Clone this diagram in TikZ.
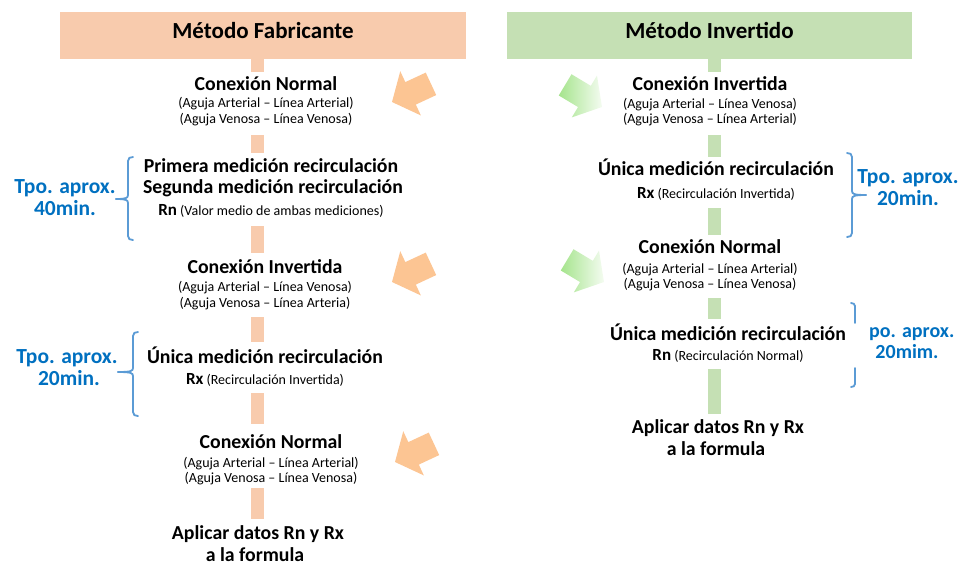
\documentclass[tikz,border=0pt]{standalone}
\usepackage{fontspec}
\setmainfont{Carlito}
\definecolor{peachH}{RGB}{248,203,173}
\definecolor{peachA}{RGB}{252,197,147}
\definecolor{greenH}{RGB}{197,224,180}
\definecolor{greenA}{RGB}{165,228,140}
\definecolor{blueT}{RGB}{0,112,192}
\definecolor{blueB}{RGB}{91,155,213}
\tikzset{
  txt/.style={inner sep=0pt, text height=1.1em, text depth=0pt},
  hdr/.style={inner sep=0pt, text height=0.62em, text depth=0pt, font=\bfseries\fontsize{23}{26}\selectfont, minimum height=47pt},
  ttl/.style={txt, font=\bfseries\fontsize{19.8}{22}\selectfont},
  sub/.style={txt, font=\fontsize{14}{16}\selectfont},
  tpo/.style={txt, font=\bfseries\fontsize{21.5}{24}\selectfont, text=blueT},
  tpos/.style={inner sep=0pt, text height=0.8em, text depth=0pt, font=\bfseries\fontsize{20}{22}\selectfont, text=blueT},
  brc/.style={draw=blueB, line width=1.8pt, line cap=round},
  barL/.style={fill=peachH},
  barR/.style={fill=greenH},
  arrowL/.pic={\fill[peachA] (0,0) -- (-20.5,24.4) -- (-20.5,12.4) -- (-43,12.4) -- (-43,-12.4) -- (-20.5,-12.4) -- (-20.5,-24.4) -- cycle;},
  arrowR/.pic={\shade[left color=greenA, right color=greenA!12!white] (0,0) -- (-20.5,24.4) -- (-20.5,12.4) -- (-43,12.4) -- (-43,-12.4) -- (-20.5,-12.4) -- (-20.5,-24.4) -- cycle;}
}
\newcommand{\bigR}[1]{{\bfseries\fontsize{17}{19}\selectfont #1}}
\begin{document}
\begin{tikzpicture}[x=1pt,y=-1pt]
\path[use as bounding box] (0,0) rectangle (959,566);

% headers
\node[hdr, fill=peachH, minimum width=406pt] (hF) at (263,35.5) {Método Fabricante};
\node[hdr, fill=greenH, minimum width=405pt] (hI) at (709.5,35.5) {Método Invertido};

% left bars
\fill[barL] (251,58) rectangle (264,72);
\fill[barL] (251,135) rectangle (264,153);
\fill[barL] (251,226) rectangle (264,253);
\fill[barL] (251,317) rectangle (264,342);
\fill[barL] (251,393) rectangle (264,424);
\fill[barL] (251,488) rectangle (264,519);

% right bars
\fill[barR] (708,58) rectangle (721,72);
\fill[barR] (708,135) rectangle (721,157);
\fill[barR] (708,208) rectangle (721,235);
\fill[barR] (708,298) rectangle (721,319);
\fill[barR] (708,369) rectangle (721,414);

% left column text
\node[ttl] (lA) at (266,85) {Conexión Normal};
\node[sub] (lA1) at (266,102) {(Aguja Arterial – Línea Arterial)};
\node[sub] (lA2) at (266,118) {(Aguja Venosa – Línea Venosa)};

\node[ttl] (lB) at (271,167) {Primera medición recirculación};
\node[ttl] (lB1) at (273,188) {Segunda medición recirculación};
\node[sub] (lB2) at (271,210) {\bigR{Rn} (Valor medio de ambas mediciones)};

\node[ttl] (lC) at (265,268) {Conexión Invertida};
\node[sub] (lC1) at (265,286) {(Aguja Arterial – Línea Venosa)};
\node[sub] (lC2) at (265,302) {(Aguja Venosa – Línea Arteria)};

\node[ttl] (lD) at (265,358) {Única medición recirculación};
\node[sub] (lD1) at (265,379) {\bigR{Rx} (Recirculación Invertida)};

\node[ttl] (lE) at (271,443) {Conexión Normal};
\node[sub] (lE1) at (271,462) {(Aguja Arterial – Línea Arterial)};
\node[sub] (lE2) at (271,477) {(Aguja Venosa – Línea Venosa)};

\node[ttl] (lF) at (258,534) {Aplicar datos Rn y Rx};
\node[ttl] (lF1) at (255,556) {a la formula};

% right column text
\node[ttl] (rA) at (710,85) {Conexión Invertida};
\node[sub] (rA1) at (710,103) {(Aguja Arterial – Línea Venosa)};
\node[sub] (rA2) at (710,118) {(Aguja Venosa – Línea Arterial)};

\node[ttl] (rB) at (716,170) {Única medición recirculación};
\node[sub] (rB1) at (716,193) {\bigR{Rx} (Recirculación Invertida)};

\node[ttl] (rC) at (710,248) {Conexión Normal};
\node[sub] (rC1) at (710,268) {(Aguja Arterial – Línea Arterial)};
\node[sub] (rC2) at (710,283) {(Aguja Venosa – Línea Venosa)};

\node[ttl] (rD) at (728,335) {Única medición recirculación};
\node[sub] (rD1) at (728,355) {\bigR{Rn} (Recirculación Normal)};

\node[ttl] (rE) at (718,428) {Aplicar datos Rn y Rx};
\node[ttl] (rE1) at (716,450) {a la formula};

% blue time labels
\node[tpo] (t1) at (65,188) {Tpo. aprox.};
\node[tpo] (t1b) at (65,210) {40min.};
\node[tpo] (t2) at (67,358) {Tpo. aprox.};
\node[tpo] (t2b) at (69,380) {20min.};
\node[tpo] (t3) at (908,178) {Tpo. aprox.};
\node[tpo] (t3b) at (908,200) {20min.};
\node[tpos, anchor=west] (t4) at (869,333) {po. aprox.};
\node[tpos] (t4b) at (907,354) {20mim.};

% braces (left)
\draw[brc] (133,157) .. controls (130,157) and (128,158) .. (128,161) -- (128,195) .. controls (128,198) and (126,199) .. (116,199);
\draw[brc] (116,199) .. controls (126,199) and (128,200) .. (128,203) -- (128,236) .. controls (128,239) and (130,240) .. (133,240);
\draw[brc] (138,332) .. controls (135,332) and (133,333) .. (133,336) -- (133,368) .. controls (133,371) and (131,372) .. (118,372);
\draw[brc] (118,372) .. controls (131,372) and (133,373) .. (133,376) -- (133,412) .. controls (133,415) and (135,416) .. (138,416);
% braces (right)
\draw[brc] (847,153) .. controls (850,153) and (852,154) .. (852,157) -- (852,191) .. controls (852,194) and (854,195) .. (866,195);
\draw[brc] (866,195) .. controls (854,195) and (852,196) .. (852,199) -- (852,233) .. controls (852,236) and (850,237) .. (847,237);
\draw[brc] (851,303) .. controls (853,303) and (855,304) .. (855,306) -- (855,323);
\draw[brc] (855,368) -- (855,384) .. controls (855,386) and (853,387) .. (851,387);

% block arrows
\pic[rotate=205] (aL1) at (392,102) {arrowL};
\pic[rotate=205] (aL2) at (392,282) {arrowL};
\pic[rotate=205] (aL3) at (395,462) {arrowL};
\pic[rotate=-31] (aR1) at (602,107) {arrowR};
\pic[rotate=-31] (aR2) at (604,282) {arrowR};
\end{tikzpicture}
\end{document}
